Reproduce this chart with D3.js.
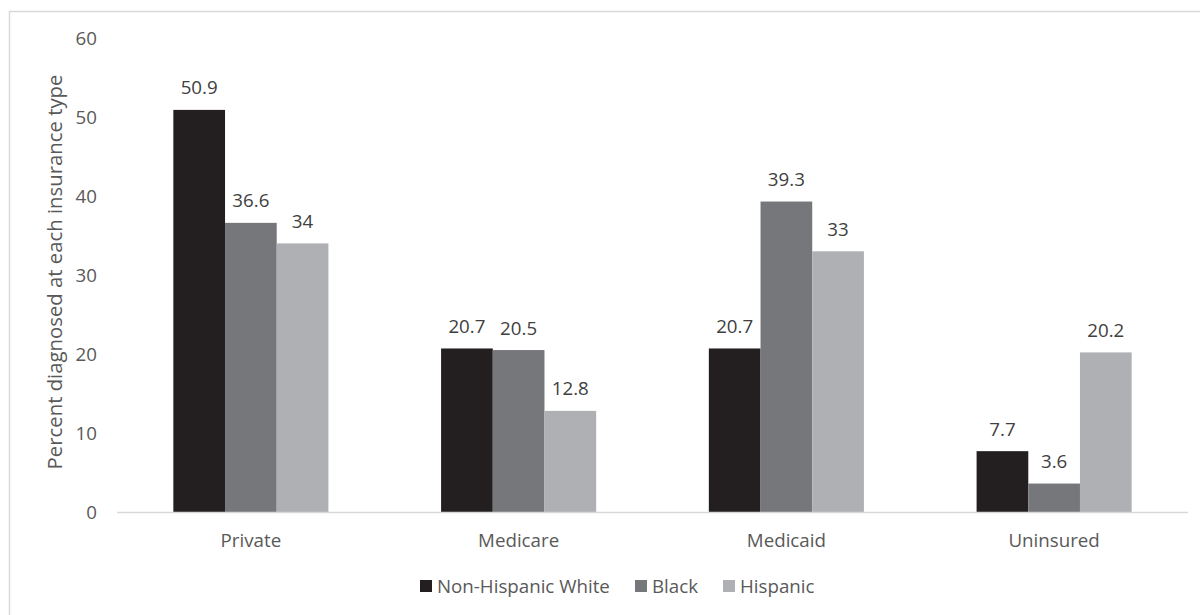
<!DOCTYPE html>
<html>
<head>
<meta charset="utf-8">
<script src="https://cdn.jsdelivr.net/npm/d3@7"></script>
<style>
html,body{margin:0;padding:0;background:#fff;}
text{font-family:"Open Sans",sans-serif;}
</style>
</head>
<body>
<svg id="chart" width="1200" height="615"></svg>
<script>
const categories = ["Private", "Medicare", "Medicaid", "Uninsured"];
const seriesNames = ["Non-Hispanic White", "Black", "Hispanic"];
const nonHispanicWhite = [50.9, 20.7, 20.7, 7.7];
const black = [36.6, 20.5, 39.3, 3.6];
const hispanic = [34, 12.8, 33, 20.2];
const yTicks = [0, 10, 20, 30, 40, 50, 60];
const colors = ["#231f20", "#76777a", "#afb0b3"];
const yTitle = "Percent diagnosed at each insurance type";

const series = [nonHispanicWhite, black, hispanic];
const svg = d3.select("#chart");

// fit font sizes to the reference text widths
function fitSize(str, targetWidth) {
  const t = svg.append("text").attr("font-size", 100).text(str);
  const w = t.node().getComputedTextLength();
  t.remove();
  return 100 * targetWidth / w;
}
const fs = fitSize("Non-Hispanic White", 173);
const titleFs = fitSize(yTitle, 395);

// outer frame
svg.append("rect").attr("x", 9.5).attr("y", 11.5).attr("width", 1200).attr("height", 620)
  .attr("fill", "none").attr("stroke", "#d9d9d9").attr("stroke-width", 1.5);

const plotLeft = 117, plotRight = 1188, plotTop = 38, plotBottom = 512;
const x0 = d3.scaleBand().domain(categories).range([plotLeft, plotRight]).paddingInner(0).paddingOuter(0);
const x1 = d3.scaleBand().domain(seriesNames).range([0, x0.bandwidth()]).paddingInner(0).paddingOuter(1.09);
const y = d3.scaleLinear().domain([0, 60]).range([plotBottom, plotTop]);

// y tick labels
svg.append("g").selectAll("text").data(yTicks).join("text")
  .attr("x", 97).attr("y", d => y(d)).attr("dy", "0.35em")
  .attr("text-anchor", "end").attr("font-size", fs).attr("fill", "#595959")
  .text(d => d);

// y title
svg.append("text")
  .attr("transform", `translate(55,${272}) rotate(-90)`)
  .attr("text-anchor", "middle").attr("dy", "0.35em").attr("font-size", titleFs).attr("fill", "#595959")
  .text(yTitle);

// bars
const groups = svg.append("g").selectAll("g").data(categories).join("g")
  .attr("transform", d => `translate(${x0(d)},0)`);

groups.each(function(cat, ci) {
  const g = d3.select(this);
  seriesNames.forEach((s, si) => {
    const v = series[si][ci];
    g.append("rect")
      .attr("x", x1(s)).attr("y", y(v))
      .attr("width", x1.bandwidth()).attr("height", y(0) - y(v))
      .attr("fill", colors[si]);
    g.append("text")
      .attr("x", x1(s) + x1.bandwidth() / 2).attr("y", y(v) - 22).attr("dy", "0.35em")
      .attr("text-anchor", "middle").attr("font-size", fs).attr("fill", "#404040")
      .text(v);
  });
});

// baseline
svg.append("line").attr("x1", plotLeft).attr("x2", plotRight).attr("y1", plotBottom + 0.5).attr("y2", plotBottom + 0.5)
  .attr("stroke", "#d9d9d9").attr("stroke-width", 1.5);

// category labels
svg.append("g").selectAll("text").data(categories).join("text")
  .attr("x", d => x0(d) + x0.bandwidth() / 2).attr("y", 540).attr("dy", "0.35em")
  .attr("text-anchor", "middle").attr("font-size", fs).attr("fill", "#595959")
  .text(d => d);

// legend
const legendX = [420, 635, 723];
const lg = svg.append("g").selectAll("g").data(seriesNames).join("g")
  .attr("transform", (d, i) => `translate(${legendX[i]},586)`);
lg.append("rect").attr("x", 0).attr("y", -6).attr("width", 12).attr("height", 12)
  .attr("fill", (d, i) => colors[i]);
lg.append("text").attr("x", 17).attr("y", 0).attr("dy", "0.35em")
  .attr("font-size", fs).attr("fill", "#595959").text(d => d);
</script>
</body>
</html>
